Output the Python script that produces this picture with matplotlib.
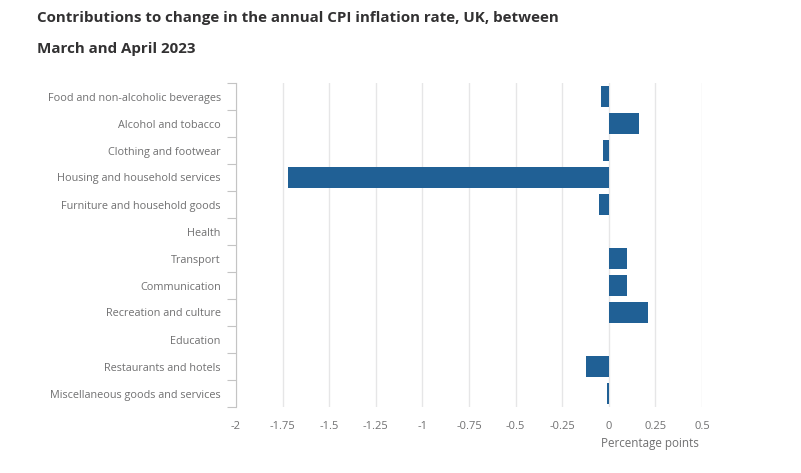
import matplotlib
matplotlib.use("Agg")
import matplotlib.pyplot as plt
import numpy as np

categories = [
    "Food and non-alcoholic beverages",
    "Alcohol and tobacco",
    "Clothing and footwear",
    "Housing and household services",
    "Furniture and household goods",
    "Health",
    "Transport",
    "Communication",
    "Recreation and culture",
    "Education",
    "Restaurants and hotels",
    "Miscellaneous goods and services",
]
values = [-0.04, 0.16, -0.03, -1.72, -0.05, 0.0, 0.10, 0.10, 0.21, 0.0, -0.12, -0.01]
xticks = [-2, -1.75, -1.5, -1.25, -1, -0.75, -0.5, -0.25, 0, 0.25, 0.5]
xticklabels = ["-2", "-1.75", "-1.5", "-1.25", "-1", "-0.75", "-0.5", "-0.25", "0", "0.25", "0.5"]

plt.rcParams['font.family'] = ['Open Sans', 'DejaVu Sans']

W, H = 801, 473
fig = plt.figure(figsize=(W / 100, H / 100), dpi=100)
left, right, top, bottom = 236, 702, 83, 407
ax = fig.add_axes([left / W, 1 - bottom / H, (right - left) / W, (bottom - top) / H])

y = np.arange(len(categories))
ax.barh(y, values, height=0.78, color="#206095", zorder=3)
ax.set_ylim(len(categories) - 0.5, -0.5)
ax.set_xlim(-2, 0.5)

ax.set_xticks(xticks)
ax.set_xticklabels(xticklabels)
ax.grid(axis="x", color="#e6e6e7", linewidth=1, zorder=0)
ax.set_yticks(y)
ax.set_yticklabels(categories)
ax.set_yticks(np.arange(-0.5, len(categories), 1), minor=True)

ax.tick_params(axis="y", which="major", length=0, pad=11, labelsize=7.85, labelcolor="#707071")
ax.tick_params(axis="y", which="minor", length=6.5, color="#c4c4c4", width=0.8)
ax.tick_params(axis="x", which="major", length=0, pad=10, labelsize=8, labelcolor="#707071")

for s in ["top", "right", "bottom"]:
    ax.spines[s].set_visible(False)
ax.spines["left"].set_color("#c4c4c4")
ax.spines["left"].set_linewidth(0.8)

fig.text(37 / W, 1 - 18 / H, "Contributions to change in the annual CPI inflation rate, UK, between",
         fontsize=10.9, fontweight="bold", color="#323132", va="center", ha="left")
fig.text(37 / W, 1 - 49 / H, "March and April 2023",
         fontsize=10.9, fontweight="bold", color="#323132", va="center", ha="left")
fig.text(650 / W, 1 - 443 / H, "Percentage points", fontsize=8.4, color="#707071", va="center", ha="center")

fig.savefig("out.png", dpi=100)
